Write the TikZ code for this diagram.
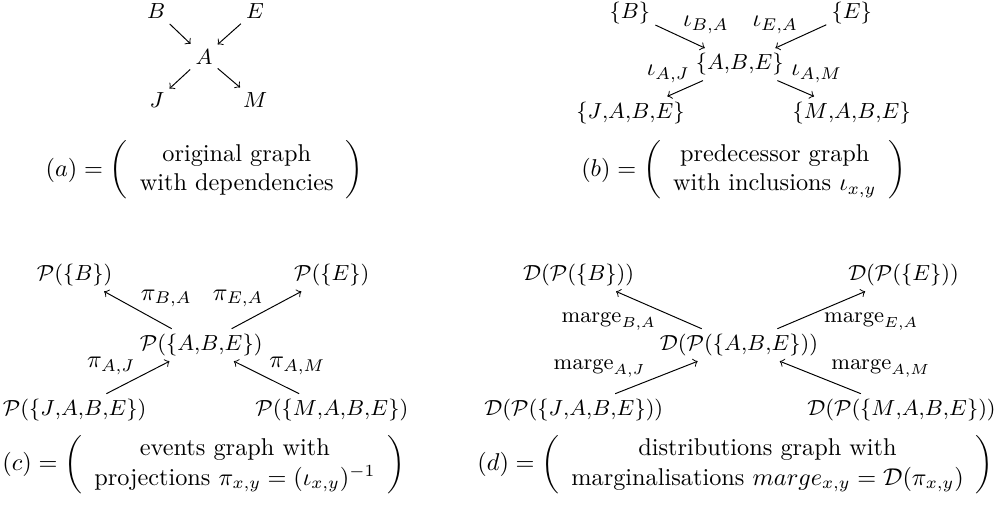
\documentclass[tikz,border=0pt]{standalone}
\usepackage{amsmath,amssymb,amsfonts}
\usepackage{xcolor}
\usepackage{tikz}
\usetikzlibrary{arrows,positioning,calc}

\begin{document}
\begin{tikzpicture}[
        % Styles
        obj/.style={
            font=\small,
            inner sep=2pt
        },
        lbl/.style={
            font=\normalsize,
            inner sep=1pt
        },
        mlbl/.style={
            font=\small,
            inner sep=1pt
        },
        caption/.style={
            font=\normalsize,
            inner sep=0pt
        },
        map/.style={
            ->,
            line width=0.4pt
        }
    ]

    % Fixed frame
    \useasboundingbox (0,0) rectangle (14.45,-7.33);

    % (a) Original graph
    \node[obj] (aB) at (2.26,-0.16) {$B$};
    \node[obj] (aE) at (3.69,-0.16) {$E$};
    \node[obj] (aA) at (2.95,-0.82) {$A$};
    \node[obj] (aJ) at (2.27,-1.45) {$J$};
    \node[obj] (aM) at (3.69,-1.45) {$M$};
    \draw[map] (aB) -- (aA);
    \draw[map] (aE) -- (aA);
    \draw[map] (aA) -- (aJ);
    \draw[map] (aA) -- (aM);
    \node[caption] (capa) at (2.96,-2.46) {$(a) = \left(\begin{array}{c}
            \text{original graph}\\
            \text{with dependencies}
        \end{array}\right)$};

    % (b) Predecessor graph
    \node[obj] (bB) at (9.11,-0.19) {$\{B\}$};
    \node[obj] (bE) at (12.32,-0.19) {$\{E\}$};
    \node[obj] (bA) at (10.70,-0.93) {$\{A{,}B{,}E\}$};
    \node[obj] (bJ) at (9.12,-1.63) {$\{J{,}A{,}B{,}E\}$};
    \node[obj] (bM) at (12.32,-1.63) {$\{M{,}A{,}B{,}E\}$};
    \draw[map] (bB) -- node[lbl, midway, above right] (iBA) {$\iota_{B,A}$} (bA);
    \draw[map] (bE) -- node[lbl, midway, above left] (iEA) {$\iota_{E,A}$} (bA);
    \draw[map] (bA) -- node[lbl, pos=0.3, above left] (iAJ) {$\iota_{A,J}$} (bJ);
    \draw[map] (bA) -- node[lbl, pos=0.3, above right] (iAM) {$\iota_{A,M}$} (bM);
    \node[caption] (capb) at (10.76,-2.46) {$(b) = \left(\begin{array}{c}
            \text{predecessor graph}\\
            \text{with inclusions } \iota_{x,y}
        \end{array}\right)$};

    % (c) Events graph
    \node[obj] (cB) at (1.08,-3.98) {$\mathcal{P}(\{B\})$};
    \node[obj] (cE) at (4.80,-3.98) {$\mathcal{P}(\{E\})$};
    \node[obj] (cA) at (2.91,-4.99) {$\mathcal{P}(\{A{,}B{,}E\})$};
    \node[obj] (cJ) at (1.08,-5.93) {$\mathcal{P}(\{J{,}A{,}B{,}E\})$};
    \node[obj] (cM) at (4.80,-5.93) {$\mathcal{P}(\{M{,}A{,}B{,}E\})$};
    \draw[map] (cA) -- node[lbl, midway, above right] (pBA) {$\pi_{B,A}$} (cB);
    \draw[map] (cA) -- node[lbl, midway, above left] (pEA) {$\pi_{E,A}$} (cE);
    \draw[map] (cJ) -- node[lbl, midway, above left] (pAJ) {$\pi_{A,J}$} (cA);
    \draw[map] (cM) -- node[lbl, midway, above right] (pAM) {$\pi_{A,M}$} (cA);
    \node[caption] (capc) at (2.95,-6.72) {$(c) = \left(\begin{array}{c}
            \text{events graph with}\\
            \text{projections } \pi_{x,y} = (\iota_{x,y})^{-1}
        \end{array}\right)$};

    % (d) Distributions graph
    \node[obj] (dB) at (8.37,-3.98) {$\mathcal{D}(\mathcal{P}(\{B\}))$};
    \node[obj] (dE) at (13.07,-3.98) {$\mathcal{D}(\mathcal{P}(\{E\}))$};
    \node[obj] (dA) at (10.69,-4.99) {$\mathcal{D}(\mathcal{P}(\{A{,}B{,}E\}))$};
    \node[obj] (dJ) at (8.30,-5.93) {$\mathcal{D}(\mathcal{P}(\{J{,}A{,}B{,}E\}))$};
    \node[obj] (dM) at (13.04,-5.93) {$\mathcal{D}(\mathcal{P}(\{M{,}A{,}B{,}E\}))$};
    \draw[map] (dA) -- node[mlbl, midway, below left] (mBA) {$\mathrm{marge}_{B,A}$} (dB);
    \draw[map] (dA) -- node[mlbl, midway, below right] (mEA) {$\mathrm{marge}_{E,A}$} (dE);
    \draw[map] (dJ) -- node[mlbl, pos=0.4, above left] (mAJ) {$\mathrm{marge}_{A,J}$} (dA);
    \draw[map] (dM) -- node[mlbl, pos=0.4, above right] (mAM) {$\mathrm{marge}_{A,M}$} (dA);
    \node[caption] (capd) at (10.64,-6.72) {$(d) = \left(\begin{array}{c}
            \text{distributions graph with}\\
            \text{marginalisations } marge_{x,y} = \mathcal{D}(\pi_{x,y})
        \end{array}\right)$};

\end{tikzpicture}
\end{document}
